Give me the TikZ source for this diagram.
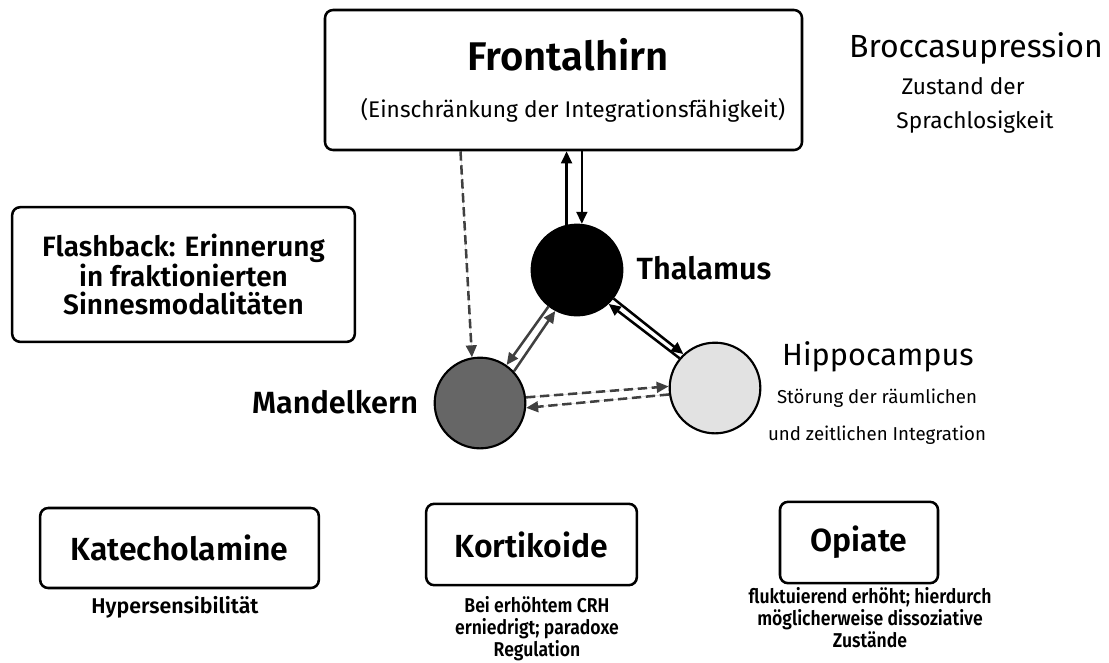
\documentclass[tikz,border=0pt]{standalone}
\usepackage{fontspec}
\setmainfont{Fira Sans}[BoldFont={Fira Sans SemiBold}]
\newfontfamily\condfont{Fira Sans SemiBold}[FakeStretch=0.88]
\usetikzlibrary{arrows.meta,calc}
\definecolor{arrgray}{HTML}{404040}
\definecolor{mandfill}{HTML}{666666}
\definecolor{hippofill}{HTML}{E2E2E2}
\begin{document}
\begin{tikzpicture}[x=0.75pt,y=-0.75pt,
  boxed/.style={draw,line width=1.9pt,rounded corners=6pt,fill=white,inner sep=0pt},
  organ/.style={circle,draw,line width=1.6pt,minimum size=68pt,inner sep=0pt},
  arr/.style={line width=1.9pt,-{Triangle[length=9pt,width=8pt]}},
  grayarr/.style={arr,draw=arrgray,fill=arrgray},
  dasharr/.style={grayarr,dash pattern=on 7pt off 3.5pt}
]
\useasboundingbox (0,0) rectangle (1109,662);

% boxes
\node[boxed,minimum width=357.75pt,minimum height=105pt] (front) at (563.5,80) {};
\node[font=\bfseries\fontsize{30}{36}\selectfont] (fronttitle) at (568,55) {Frontalhirn};
\node[font=\fontsize{17}{20}\selectfont] (frontsub) at (573,110) {(Einschränkung der Integrationsfähigkeit)};

\node[boxed,minimum width=257pt,minimum height=101pt,align=center,
  font=\bfseries\fontsize{21}{20.5}\selectfont] (flash) at (183.5,274.5)
  {Flashback: Erinnerung\\in fraktionierten\\Sinnesmodalitäten};

\node[boxed,minimum width=209pt,minimum height=60pt,font=\bfseries\fontsize{24}{29}\selectfont] (kat) at (179.5,548) {Katecholamine};
\node[boxed,minimum width=158pt,minimum height=61pt,font=\bfseries\fontsize{24}{29}\selectfont] (kort) at (531.5,544.5) {Kortikoide};
\node[boxed,minimum width=118.5pt,minimum height=61pt,font=\bfseries\fontsize{24}{29}\selectfont] (opi) at (859,542.5) {Opiate};

% Brocca
\node[font=\fontsize{24}{28}\selectfont] (brocca) at (976,48) {Broccasupression};
\node[font=\fontsize{17}{20}\selectfont] (zustand) at (963,86) {Zustand der};
\node[font=\fontsize{17}{20}\selectfont] (sprach) at (975,122) {Sprachlosigkeit};

% organs
\node[organ,fill=black] (thal) at (577,270) {};
\node[organ,fill=mandfill] (mand) at (480,403) {};
\node[organ,fill=hippofill] (hippo) at (715,388) {};

\node[font=\bfseries\fontsize{23}{27}\selectfont] (thallab) at (704,268) {Thalamus};
\node[font=\bfseries\fontsize{23}{27}\selectfont] (mandlab) at (335,402) {Mandelkern};
\node[font=\fontsize{23}{27}\selectfont] (hippolab) at (878,357) {Hippocampus};
\node[font=\fontsize{14}{17}\selectfont] (hippo1) at (877,398) {Störung der räumlichen};
\node[font=\fontsize{14}{17}\selectfont] (hippo2) at (877,435) {und zeitlichen Integration};

% lower texts
\node[font=\bfseries\fontsize{16}{19}\selectfont] (katt) at (175,607) {Hypersensibilität};
\node[font=\condfont\fontsize{15}{16.5}\selectfont,align=center] (kortt) at (537,629)
  {Bei erhöhtem CRH\\erniedrigt; paradoxe\\Regulation};
\node[font=\condfont\fontsize{15}{16.5}\selectfont,align=center] (opit) at (870,618)
  {fluktuierend erhöht; hierdurch\\möglicherweise dissoziative\\Zustände};

% connectors
\draw[arr] (thal.103) -- (thal.103 |- front.south);
\draw[arr] (thal.84 |- front.south) -- (thal.84);
\draw[dasharr] ($(front.south)+(-103,0)$) -- (mand.100);

\draw[grayarr] (thal.232) -- (mand.55);
\draw[grayarr] (mand.43) -- (thal.242);

\draw[arr] (hippo.140) -- (thal.313);
\draw[arr] (thal.322) -- (hippo.133);

\draw[dasharr] (mand.7) -- (hippo.178);
\draw[dasharr] (hippo.188) -- (mand.354);
\end{tikzpicture}
\end{document}
